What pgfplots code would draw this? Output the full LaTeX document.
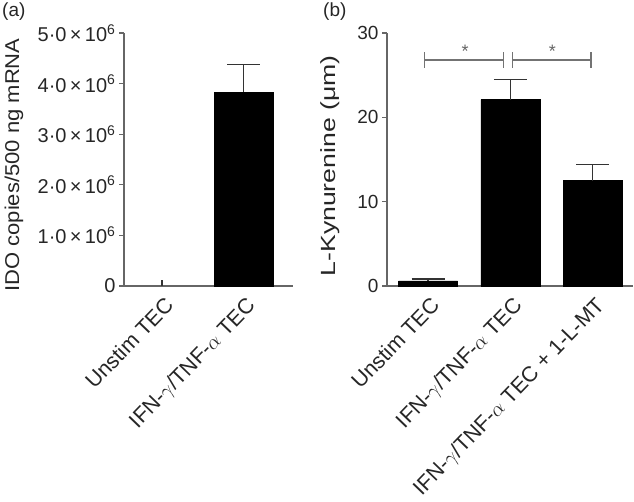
\documentclass[border=0pt]{standalone}
\usepackage{pgfplots}
\pgfplotsset{compat=1.18}
\usepackage{fontspec}
\setmainfont{Liberation Sans}
\newfontfamily\labA[FakeStretch=1.1]{Liberation Sans}
\newfontfamily\labB[FakeStretch=1.3]{Liberation Sans}
\begin{document}
\begin{tikzpicture}
\useasboundingbox (0pt,0pt) rectangle (634pt,502pt);
\pgfplotsset{
  mystyle/.style={
    scale only axis, height=253pt, ymin=0,
    axis x line=bottom, axis y line=left,
    axis line style={-, black!60, line width=1.2pt},
    ytick align=outside, major tick length=5pt,
    ytick style={black!60, line width=1.2pt},
    xtick style={draw=none},
    scaled y ticks=false,
    yticklabel style={font=\fontsize{19}{22}\selectfont, text=black!85},
    xticklabel style={font=\fontsize{21.5}{24}\selectfont, text=black!85, rotate=46, anchor=north east, inner sep=1pt, yshift=-5pt, xshift=-3pt},
    ylabel style={text=black!85, anchor=center},
    clip=false,
  },
  errstyle/.style={error bars/.cd, y dir=plus, y explicit,
    error bar style={draw=black!80, line width=1.2pt},
    error mark options={rotate=90, mark size=16.5pt, draw=black!80, line width=1.2pt}},
}
% Panel (a)
\begin{axis}[mystyle, at={(124pt,216pt)}, anchor=south west, width=169pt,
  xmin=-0.466, xmax=1.607, ymax=5e6,
  xtick={0,1}, xticklabels={Unstim TEC, IFN-$\gamma$/TNF-$\alpha$ TEC},
  ytick={0,1e6,2e6,3e6,4e6,5e6},
  yticklabels={0,1·0\,×\,10\textsuperscript{6},2·0\,×\,10\textsuperscript{6},3·0\,×\,10\textsuperscript{6},4·0\,×\,10\textsuperscript{6},5·0\,×\,10\textsuperscript{6}},
  yticklabel style={font=\fontsize{20}{23}\selectfont},
  ylabel={IDO copies/500 ng mRNA},
  ylabel style={font=\labA\fontsize{20}{23}\selectfont, at={(axis description cs:-0.651,0.478)}},
]
\addplot[ybar, bar width=59pt, fill=black, draw=black, errstyle] coordinates {(1,3.83e6) +- (0,0.55e6)};
\addplot[draw=none, mark=none, error bars/.cd, y dir=plus, y explicit, error mark=none,
  error bar style={draw=black!80, line width=1.2pt}] coordinates {(0,0) +- (0,0.12e6)};
\end{axis}
% Panel (b)
\begin{axis}[mystyle, at={(387pt,216pt)}, anchor=south west, width=246pt,
  xmin=-0.498, xmax=2.49, ymax=30,
  xtick={0,1,2}, xticklabels={Unstim TEC, IFN-$\gamma$/TNF-$\alpha$ TEC, IFN-$\gamma$/TNF-$\alpha$ TEC + 1-L-MT},
  ytick={0,10,20,30}, yticklabels={0,10,20,30},
  ylabel={L-Kynurenine (μm)},
  ylabel style={font=\labB\fontsize{20.5}{23}\selectfont, at={(axis description cs:-0.232,0.475)}},
]
\addplot[ybar, bar width=59pt, fill=black, draw=black, errstyle] coordinates {(0,0.6) +- (0,0.23) (1,22.1) +- (0,2.4) (2,12.5) +- (0,1.9)};
\draw[black!55, line width=1.2pt] (axis cs:-0.04,26.8) -- (axis cs:0.92,26.8);
\draw[black!55, line width=1.2pt] (axis cs:-0.04,25.85) -- (axis cs:-0.04,27.75);
\draw[black!55, line width=1.2pt] (axis cs:0.92,25.85) -- (axis cs:0.92,27.75);
\draw[black!55, line width=1.2pt] (axis cs:1.03,26.8) -- (axis cs:1.98,26.8);
\draw[black!55, line width=1.2pt] (axis cs:1.03,25.85) -- (axis cs:1.03,27.75);
\draw[black!55, line width=1.2pt] (axis cs:1.98,25.85) -- (axis cs:1.98,27.75);
\node[anchor=base, text=black!60, font=\fontsize{18}{18}\selectfont, inner sep=0pt] at (axis cs:0.45,27.1) {*};
\node[anchor=base, text=black!60, font=\fontsize{18}{18}\selectfont, inner sep=0pt] at (axis cs:1.51,27.1) {*};
\end{axis}
\node[anchor=north west, inner sep=1pt, font=\fontsize{19}{22}\selectfont, text=black!85] at (1pt,500pt) {(a)};
\node[anchor=north west, inner sep=1pt, font=\fontsize{19}{22}\selectfont, text=black!85] at (322pt,500pt) {(b)};
\end{tikzpicture}
\end{document}
